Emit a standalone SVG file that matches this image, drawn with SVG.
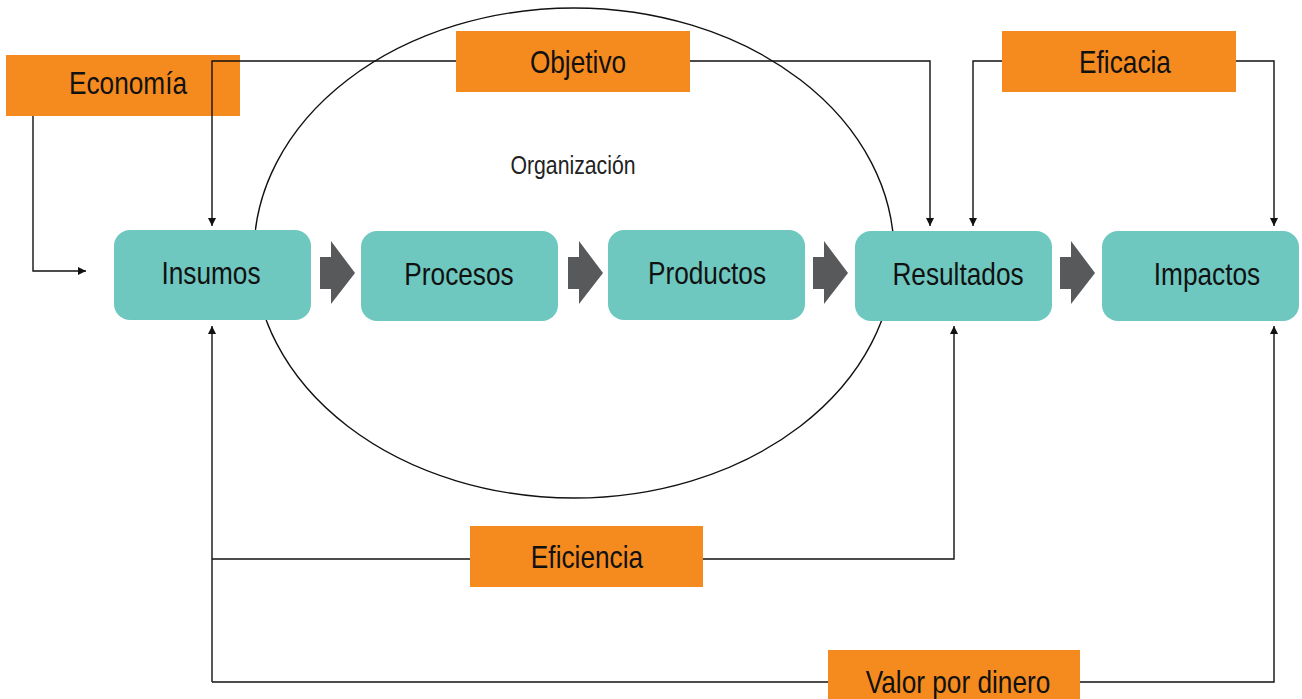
<svg xmlns="http://www.w3.org/2000/svg" width="1302" height="699" viewBox="0 0 1302 699">
<style>
.lbl{fill:#f58b1f}
.node{fill:#6ec8bf}
.t{font-family:"Liberation Sans",Arial,sans-serif;font-size:32px;fill:#111;text-anchor:middle;dominant-baseline:central}
.c{fill:none;stroke:#111;stroke-width:1.4}
.fat{fill:#58595b}
</style>
<defs>
<marker id="ah" viewBox="0 0 10 10" refX="10" refY="5" markerWidth="8" markerHeight="8" markerUnits="userSpaceOnUse" orient="auto">
<path d="M0,0 L10,5 L0,10 z" fill="#111"/>
</marker>
</defs>
<rect width="1302" height="699" fill="#fff"/>
<g id="organizacion">
<ellipse cx="574" cy="253" rx="320" ry="245" fill="none" stroke="#111" stroke-width="1.4"/>
<text class="t" transform="translate(573,165) scale(0.85,1)" style="font-size:25px;fill:#222">Organización</text>
</g>
<g id="economia"><rect class="lbl" x="6" y="55" width="234" height="61"/><text class="t" transform="translate(128,83) scale(0.82,1)">Economía</text></g>
<g id="connectors">
<polyline class="c" points="33,116 33,271 86,271" marker-end="url(#ah)"/>
<polyline class="c" points="456,61 212,61 212,226" marker-end="url(#ah)"/>
<polyline class="c" points="690,61 930,61 930,226" marker-end="url(#ah)"/>
<polyline class="c" points="1002,61 973,61 973,226" marker-end="url(#ah)"/>
<polyline class="c" points="1236,61 1274,61 1274,226" marker-end="url(#ah)"/>
<polyline class="c" points="212,559 470,559"/>
<polyline class="c" points="703,559 954,559 954,326" marker-end="url(#ah)"/>
<polyline class="c" points="212,682 212,326" marker-end="url(#ah)"/>
<polyline class="c" points="212,682 828,682"/>
<polyline class="c" points="1080,682 1274,682 1274,326" marker-end="url(#ah)"/>
<path class="fat" d="M320,257 H331 V241 L355,273 L331,304 V289 H320 z"/>
<path class="fat" d="M568,257 H579 V241 L603,273 L579,304 V289 H568 z"/>
<path class="fat" d="M813,257 H824 V241 L848,273 L824,304 V289 H813 z"/>
<path class="fat" d="M1060,257 H1071 V241 L1095,273 L1071,304 V289 H1060 z"/>
</g>
<g id="insumos"><rect class="node" x="114" y="230" width="197" height="90" rx="16"/><text class="t" transform="translate(211,273) scale(0.82,1)">Insumos</text></g>
<g id="procesos"><rect class="node" x="361" y="231" width="197" height="90" rx="16"/><text class="t" transform="translate(459,274) scale(0.82,1)">Procesos</text></g>
<g id="productos"><rect class="node" x="608" y="230" width="197" height="90" rx="16"/><text class="t" transform="translate(707,273) scale(0.82,1)">Productos</text></g>
<g id="resultados"><rect class="node" x="855" y="231" width="197" height="90" rx="16"/><text class="t" transform="translate(958,274) scale(0.82,1)">Resultados</text></g>
<g id="impactos"><rect class="node" x="1102" y="231" width="197" height="90" rx="16"/><text class="t" transform="translate(1207,274) scale(0.82,1)">Impactos</text></g>
<g id="objetivo"><rect class="lbl" x="456" y="31" width="234" height="61"/><text class="t" transform="translate(578,62) scale(0.82,1)">Objetivo</text></g>
<g id="eficacia"><rect class="lbl" x="1002" y="31" width="234" height="61"/><text class="t" transform="translate(1125,62) scale(0.82,1)">Eficacia</text></g>
<g id="eficiencia"><rect class="lbl" x="470" y="526" width="233" height="61"/><text class="t" transform="translate(587,557) scale(0.82,1)">Eficiencia</text></g>
<g id="valor"><rect class="lbl" x="828" y="650" width="252" height="52"/><text class="t" transform="translate(958,682) scale(0.82,1)">Valor por dinero</text></g>
</svg>
